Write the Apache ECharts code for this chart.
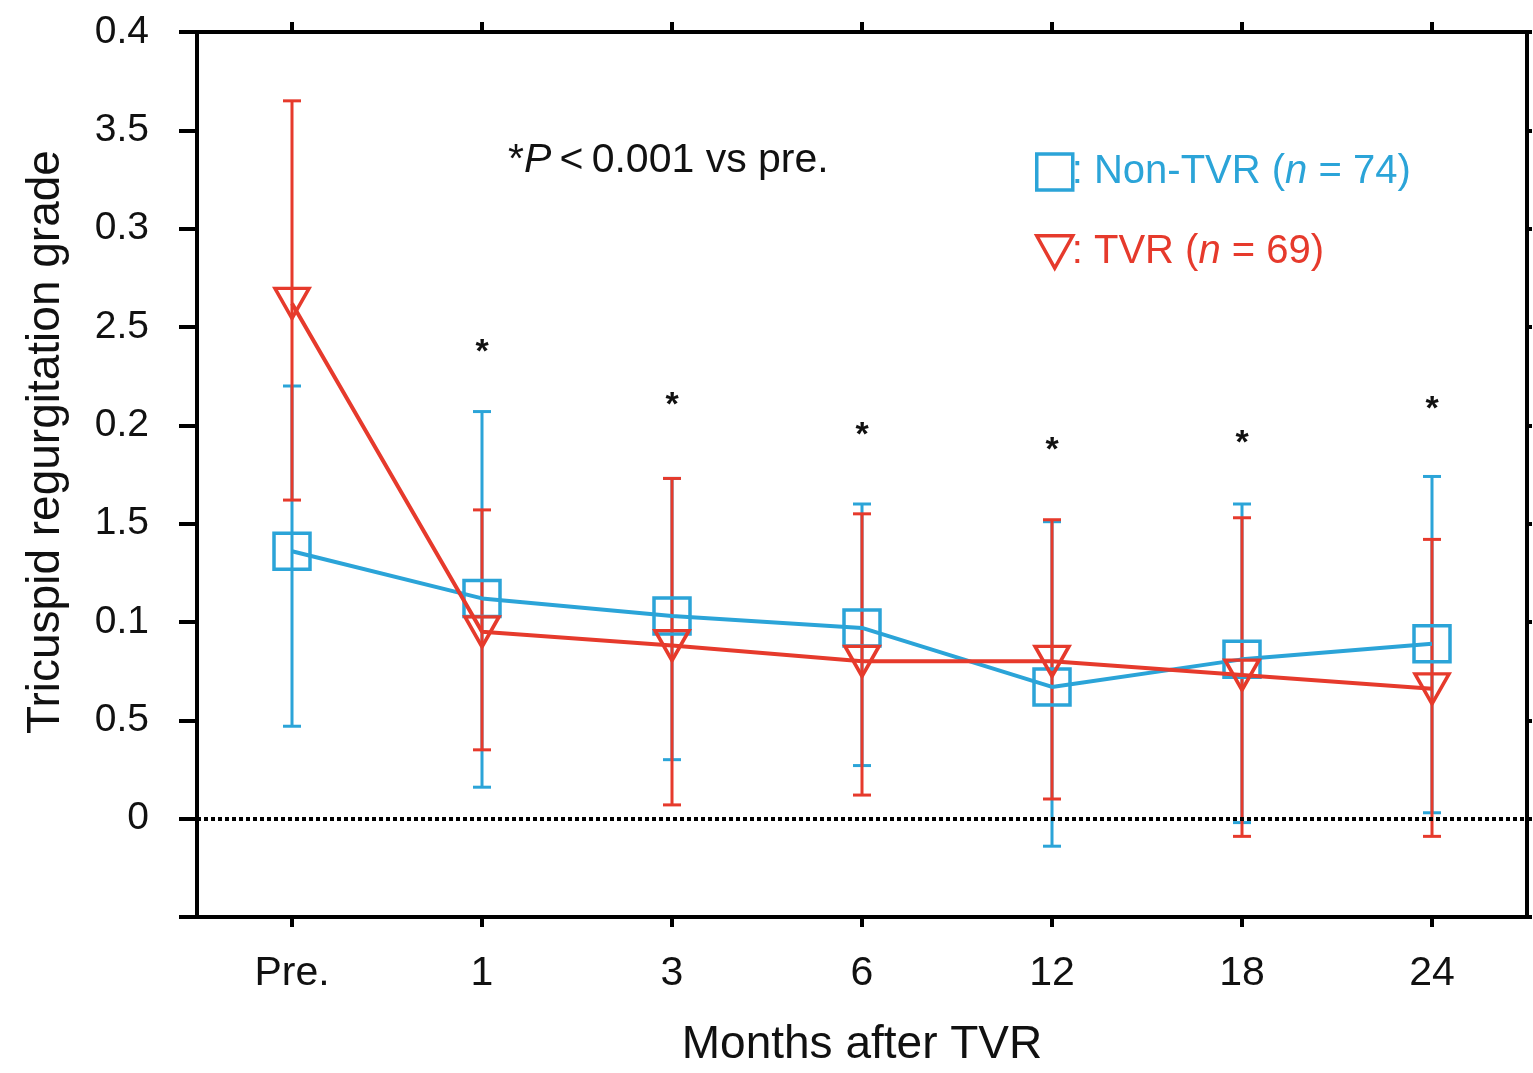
<!DOCTYPE html>
<html>
<head>
<meta charset="utf-8">
<script src="https://cdn.jsdelivr.net/npm/echarts@6/dist/echarts.min.js"></script>
<style>
html,body{margin:0;padding:0;background:#fff;}
#chart{width:1533px;height:1073px;}
</style>
</head>
<body>
<div id="chart"></div>
<script>
// ---- data ----
var categories = ["Pre.", "1", "3", "6", "12", "18", "24"];
var yTickValues = [-0.5, 0, 0.5, 1, 1.5, 2, 2.5, 3, 3.5, 4];
var yTickLabels = ["", "0", "0.5", "0.1", "1.5", "0.2", "2.5", "0.3", "3.5", "0.4"];

var nonTvrMean = [1.36, 1.12, 1.03, 0.97, 0.67, 0.81, 0.89];
var nonTvrLow  = [0.47, 0.16, 0.30, 0.27, -0.14, -0.02, 0.03];
var nonTvrHigh = [2.20, 2.07, 1.73, 1.60, 1.51, 1.60, 1.74];

var tvrMean = [2.62, 0.95, 0.88, 0.80, 0.80, 0.73, 0.66];
var tvrLow  = [1.62, 0.35, 0.07, 0.12, 0.10, -0.09, -0.09];
var tvrHigh = [3.65, 1.57, 1.73, 1.55, 1.52, 1.53, 1.42];

var starY = [null, 2.41, 2.14, 1.99, 1.91, 1.95, 2.12];

var BLUE = "#2ba4d8";
var RED = "#e63a2c";
var FONT = "Liberation Sans, Arial, Helvetica, sans-serif";
var DOWN_TRI = "path://M0,0 L20,0 L10,18 Z";

function errData(low, high) {
  return low.map(function (l, i) { return [i, l, high[i]]; });
}
function errRender(color, capHalf) {
  return function (params, api) {
    var i = api.value(0);
    var p1 = api.coord([i, api.value(1)]);
    var p2 = api.coord([i, api.value(2)]);
    var st = { stroke: color, lineWidth: 3 };
    return {
      type: "group",
      children: [
        { type: "line", shape: { x1: p1[0], y1: p1[1], x2: p2[0], y2: p2[1] }, style: st },
        { type: "line", shape: { x1: p1[0] - capHalf, y1: p1[1], x2: p1[0] + capHalf, y2: p1[1] }, style: st },
        { type: "line", shape: { x1: p2[0] - capHalf, y1: p2[1], x2: p2[0] + capHalf, y2: p2[1] }, style: st }
      ]
    };
  };
}

var chart = echarts.init(document.getElementById("chart"), null, { renderer: "canvas" });

var option = {
  backgroundColor: "#fff",
  animation: false,
  textStyle: { fontFamily: FONT },
  grid: { left: 197, right: 6, top: 32, bottom: 150, containLabel: false },
  xAxis: [
    {
      type: "category",
      data: categories,
      position: "bottom",
      boundaryGap: true,
      axisLine: { show: true, onZero: false, lineStyle: { color: "#000", width: 4 } },
      axisTick: { show: true, alignWithLabel: true, length: 10, lineStyle: { color: "#000", width: 4 } },
      axisLabel: { color: "#111", fontSize: 41, margin: 36, fontFamily: FONT },
      name: "Months after TVR",
      nameLocation: "middle",
      nameGap: 105,
      nameTextStyle: { color: "#111", fontSize: 46, fontFamily: FONT }
    },
    {
      type: "category",
      data: categories,
      position: "top",
      boundaryGap: true,
      axisLine: { show: true, onZero: false, lineStyle: { color: "#000", width: 4 } },
      axisTick: { show: true, alignWithLabel: true, length: 10, lineStyle: { color: "#000", width: 4 } },
      axisLabel: { show: false }
    }
  ],
  yAxis: [
    {
      type: "value",
      min: -0.5,
      max: 4,
      interval: 0.5,
      position: "left",
      axisLine: { show: true, onZero: false, lineStyle: { color: "#000", width: 4 } },
      axisTick: { show: true, length: 18, lineStyle: { color: "#000", width: 4 } },
      splitLine: { show: false },
      axisLabel: {
        color: "#111", fontSize: 39, margin: 48, fontFamily: FONT,
        formatter: function (v) {
          var idx = yTickValues.findIndex(function (t) { return Math.abs(t - v) < 1e-9; });
          return idx >= 0 ? yTickLabels[idx] : "";
        }
      }
    },
    {
      type: "value",
      min: -0.5,
      max: 4,
      interval: 0.5,
      position: "right",
      axisLine: { show: true, onZero: false, lineStyle: { color: "#000", width: 4 } },
      axisTick: { show: true, length: 5, lineStyle: { color: "#000", width: 4 } },
      splitLine: { show: false },
      axisLabel: { show: false }
    }
  ],
  legend: {
    orient: "vertical",
    left: 1030,
    top: 147,
    itemWidth: 36,
    itemHeight: 36,
    itemGap: 40,
    lineStyle: { opacity: 0 },
    selectedMode: false,
    textStyle: { fontSize: 40, fontFamily: FONT, padding: [0, 0, 0, -6] },
    data: [
      {
        name: "Non-TVR",
        icon: "rect",
        itemStyle: { color: "rgba(0,0,0,0)", borderColor: BLUE, borderWidth: 3.5 },
        textStyle: { color: BLUE, fontSize: 40, rich: { i: { fontStyle: "italic", color: BLUE, fontSize: 40, fontFamily: FONT } } }
      },
      {
        name: "TVR",
        icon: DOWN_TRI,
        itemStyle: { color: "rgba(0,0,0,0)", borderColor: RED, borderWidth: 3.5 },
        textStyle: { color: RED, fontSize: 40, rich: { i: { fontStyle: "italic", color: RED, fontSize: 40, fontFamily: FONT } } }
      }
    ],
    formatter: function (name) {
      if (name === "Non-TVR") return ": Non-TVR ({i|n} = 74)";
      return ": TVR ({i|n} = 69)";
    }
  },
  graphic: [
    {
      type: "text",
      left: 508,
      top: 140,
      style: {
        text: "*{i|P}\u2009<\u20090.001 vs pre.",
        fill: "#111",
        font: "41px " + FONT,
        rich: { i: { fontStyle: "italic", fontSize: 41, fontFamily: FONT, fill: "#111" } }
      }
    },
    {
      type: "text",
      x: 46,
      y: 442,
      rotation: Math.PI / 2,
      style: {
        text: "Tricuspid regurgitation grade",
        fill: "#111",
        font: "46px " + FONT,
        align: "center",
        verticalAlign: "middle"
      }
    }
  ],
  series: [
    {
      name: "Non-TVR err",
      type: "custom",
      xAxisIndex: 0, yAxisIndex: 0,
      data: errData(nonTvrLow, nonTvrHigh),
      renderItem: errRender(BLUE, 9),
      z: 2
    },
    {
      name: "TVR err",
      type: "custom",
      xAxisIndex: 0, yAxisIndex: 0,
      data: errData(tvrLow, tvrHigh),
      renderItem: errRender(RED, 9),
      z: 3
    },
    {
      name: "Non-TVR",
      type: "line",
      data: nonTvrMean,
      symbol: "rect",
      symbolSize: 36,
      lineStyle: { color: BLUE, width: 4 },
      itemStyle: { color: "rgba(0,0,0,0)", borderColor: BLUE, borderWidth: 3.5 },
      z: 4,
      markLine: {
        silent: true,
        symbol: "none",
        label: { show: false },
        lineStyle: { color: "#000", type: [4, 3], width: 4 },
        data: [{ yAxis: 0 }],
        animation: false
      }
    },
    {
      name: "TVR",
      type: "line",
      data: tvrMean,
      symbol: DOWN_TRI,
      symbolSize: [34, 30],
      lineStyle: { color: RED, width: 4 },
      itemStyle: { color: "rgba(0,0,0,0)", borderColor: RED, borderWidth: 3.5 },
      z: 5
    },
    {
      name: "stars",
      type: "custom",
      data: starY.map(function (v, i) { return [i, v]; }).filter(function (d) { return d[1] !== null; }),
      renderItem: function (params, api) {
        var p = api.coord([api.value(0), api.value(1)]);
        return {
          type: "text",
          x: p[0],
          y: p[1] + 8,
          style: { text: "*", fill: "#111", font: "bold 34px " + FONT, align: "center", verticalAlign: "middle" }
        };
      },
      z: 6
    }
  ]
};
chart.setOption(option);
</script>
</body>
</html>
